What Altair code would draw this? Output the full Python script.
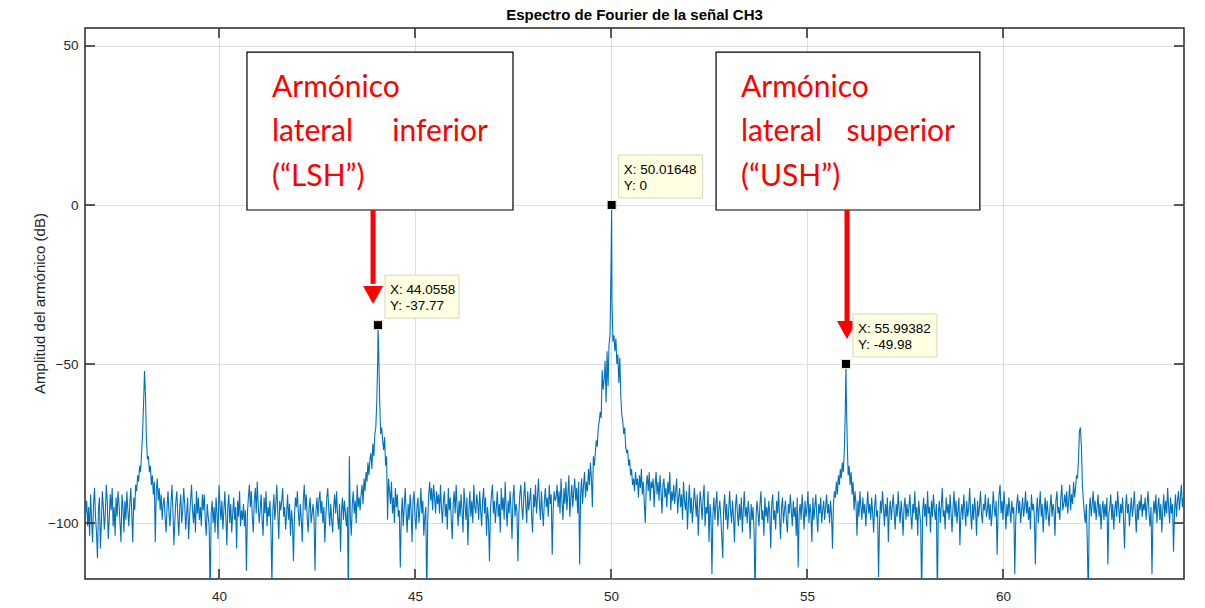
import altair as alt
import pandas as pd

# Frequency axis of the spectrum: uniform FFT bins, one row per 1 Hz
FREQ_START = 36.60
ROW_SPAN = 1.0
FREQ_STEP = 0.025

# Amplitude (dB) per bin, 40 bins per row
spectrum_rows = [
    [-97, -93, -101, -95, -104, -91, -99, -106, -94, -89, -98, -103, -111, -96, -92, -108, -100, -90, -95, -102,
     -97, -88, -93, -105, -99, -91, -96, -89, -101, -95, -104, -92, -98, -90, -94, -100, -106, -91, -95, -103],
    [-93, -99, -90, -96, -101, -94, -89, -97, -106, -92, -96, -88, -90, -85, -87, -82, -84, -78, -72, -63,
     -52.2, -60, -74, -80, -79, -84, -82, -88, -85, -91, -87, -106, -90, -86, -93, -89, -96, -91, -99, -94],
    [-92, -98, -103, -95, -90, -97, -101, -94, -88, -96, -107, -99, -93, -90, -98, -104, -95, -91, -100, -96,
     -89, -94, -102, -97, -92, -105, -98, -93, -88, -96, -100, -94, -103, -90, -97, -92, -99, -95, -101, -91],
    [-96, -91, -99, -104, -94, -98, -101, -124, -97, -93, -100, -95, -103, -92, -97, -105, -88, -94, -99, -93,
     -102, -96, -90, -98, -107, -95, -91, -100, -94, -103, -97, -92, -99, -95, -108, -93, -98, -90, -101, -96],
    [-99, -94, -101, -96, -115, -97, -92, -88, -95, -90, -98, -103, -93, -89, -97, -87, -94, -100, -96, -91,
     -99, -104, -92, -97, -90, -101, -95, -98, -93, -102, -119, -96, -91, -99, -94, -88, -97, -105, -93, -96],
    [-93, -89, -98, -95, -102, -97, -91, -99, -94, -104, -96, -100, -112, -98, -92, -95, -90, -97, -101, -94,
     -99, -106, -93, -88, -96, -91, -98, -103, -95, -92, -100, -97, -94, -99, -115, -96, -92, -98, -93, -90],
    [-97, -93, -100, -95, -106, -98, -92, -89, -96, -101, -94, -99, -103, -95, -91, -97, -90, -98, -102, -94,
     -109, -96, -92, -99, -93, -97, -101, -95, -124, -79, -98, -104, -94, -90, -97, -93, -100, -88, -95, -92],
    [-96, -91, -88, -94, -86, -90, -84, -87, -81, -85, -80, -78, -83, -75, -79, -72, -70, -62, -48, -47,
     -62, -72, -70, -74, -77, -73, -82, -79, -99, -86, -90, -94, -87, -97, -92, -100, -89, -95, -91, -98],
    [-96, -114, -98, -92, -101, -95, -89, -97, -103, -94, -99, -91, -96, -106, -93, -90, -98, -102, -95, -92,
     -100, -96, -89, -97, -93, -104, -98, -95, -124, -99, -91, -87, -93, -89, -96, -88, -92, -97, -90, -94],
    [-91, -97, -88, -95, -100, -93, -90, -98, -94, -102, -89, -96, -92, -99, -105, -94, -90, -97, -88, -95,
     -101, -93, -98, -91, -96, -103, -89, -94, -99, -92, -107, -96, -90, -98, -93, -100, -88, -95, -97, -91],
    [-94, -99, -90, -96, -101, -93, -89, -97, -92, -104, -95, -99, -112, -96, -91, -88, -97, -93, -100, -95,
     -90, -98, -94, -103, -89, -96, -92, -99, -87, -95, -101, -93, -97, -90, -96, -105, -92, -88, -98, -94],
    [-96, -112, -97, -91, -88, -95, -99, -92, -87, -94, -100, -90, -96, -93, -89, -98, -103, -91, -95, -88,
     -97, -92, -86, -94, -99, -90, -96, -101, -93, -89, -95, -92, -98, -88, -94, -91, -110, -96, -90, -93],
    [-92, -88, -95, -90, -97, -86, -93, -99, -89, -94, -87, -96, -91, -85, -98, -92, -88, -95, -90, -86,
     -93, -89, -97, -87, -113, -91, -86, -94, -88, -84, -92, -87, -90, -83, -88, -81, -86, -95, -79, -82],
    [-78, -74, -76, -70, -68, -65, -67, -52, -58, -55, -49, -62, -46, -57, -44, -41, -20, -30, -43, -41,
     -46, -42, -50, -47, -56, -48, -60, -66, -68, -72, -70, -76, -78, -77, -82, -80, -85, -83, -88, -86],
    [-90, -84, -88, -86, -92, -85, -89, -83, -91, -87, -94, -100, -88, -85, -90, -84, -93, -87, -89, -86,
     -95, -88, -84, -91, -87, -93, -85, -90, -97, -88, -86, -92, -89, -95, -87, -91, -84, -96, -90, -93],
    [-88, -94, -90, -86, -97, -92, -89, -95, -91, -99, -87, -93, -96, -90, -102, -94, -88, -97, -92, -100,
     -95, -89, -93, -98, -91, -104, -96, -90, -94, -99, -92, -88, -101, -95, -97, -90, -106, -94, -98, -116],
    [-97, -92, -99, -94, -90, -101, -96, -93, -98, -104, -111, -95, -91, -99, -94, -102, -97, -90, -96, -100,
     -93, -98, -106, -95, -91, -97, -101, -94, -99, -92, -103, -96, -90, -98, -95, -100, -93, -97, -105, -94],
    [-99, -95, -103, -124, -98, -93, -97, -101, -94, -90, -99, -96, -104, -92, -98, -95, -100, -93, -97, -108,
     -94, -91, -99, -96, -102, -93, -97, -90, -98, -105, -95, -92, -100, -96, -93, -99, -103, -94, -97, -91],
    [-96, -101, -93, -98, -95, -104, -92, -114, -97, -94, -99, -91, -96, -102, -93, -98, -95, -90, -100, -94,
     -97, -106, -92, -99, -95, -91, -98, -103, -94, -97, -92, -100, -96, -93, -99, -95, -91, -97, -94, -100],
    [-93, -97, -108, -94, -90, -92, -87, -91, -85, -88, -83, -86, -81, -84, -78, -66, -58, -74, -85, -82,
     -88, -84, -91, -87, -96, -90, -94, -104, -93, -98, -90, -95, -99, -92, -97, -94, -101, -95, -90, -97],
    [-94, -99, -92, -97, -103, -95, -91, -98, -96, -117, -100, -93, -97, -90, -95, -101, -94, -98, -92, -106,
     -96, -93, -99, -95, -91, -97, -102, -94, -98, -90, -96, -100, -93, -97, -104, -95, -92, -99, -94, -98],
    [-95, -91, -98, -102, -94, -97, -90, -99, -95, -104, -93, -97, -100, -124, -96, -92, -98, -94, -101, -90,
     -97, -95, -103, -93, -98, -91, -96, -99, -94, -124, -97, -93, -100, -95, -89, -98, -96, -102, -92, -97],
    [-94, -99, -91, -97, -103, -95, -90, -98, -93, -100, -96, -92, -107, -97, -94, -99, -91, -96, -101, -93,
     -98, -95, -89, -97, -102, -94, -99, -92, -96, -104, -93, -98, -95, -90, -97, -100, -94, -96, -91, -98],
    [-96, -92, -99, -94, -101, -97, -90, -95, -98, -93, -110, -96, -91, -88, -97, -93, -99, -90, -95, -102,
     -94, -98, -92, -96, -100, -93, -97, -95, -116, -99, -94, -91, -97, -93, -100, -96, -92, -98, -95, -90],
    [-97, -93, -99, -95, -102, -91, -96, -94, -98, -113, -97, -92, -100, -95, -90, -98, -94, -103, -96, -92,
     -99, -93, -97, -101, -95, -91, -98, -94, -96, -104, -93, -90, -97, -95, -99, -92, -88, -96, -94, -91],
    [-95, -90, -97, -93, -88, -96, -91, -94, -87, -92, -89, -85, -86, -80, -71, -70, -76, -88, -93, -97,
     -100, -94, -106, -124, -96, -92, -98, -94, -90, -97, -93, -99, -95, -91, -98, -94, -102, -96, -93, -99],
    [-94, -98, -92, -113, -97, -95, -91, -99, -94, -102, -96, -93, -98, -90, -95, -100, -94, -97, -92, -99,
     -108, -95, -91, -97, -94, -101, -96, -92, -98, -95, -90, -97, -103, -94, -99, -93, -96, -91, -98, -94],
    [-96, -92, -99, -94, -90, -97, -101, -95, -116, -98, -93, -97, -91, -100, -95, -92, -99, -94, -103, -96,
     -91, -98, -93, -97, -89, -95, -100, -92, -97, -94, -109, -96, -91, -98, -93, -90, -96, -92, -88, -95],
]
spectrum_tail = [-92]

# Marked harmonics (data tips)
peak_freq = [44.0558, 50.01648, 55.99382]
peak_db = [-37.77, 0, -49.98]

x_ticks = [40, 45, 50, 55, 60]
y_ticks = [-100, -50, 0, 50]
X_DOMAIN = [36.582, 64.617]
Y_DOMAIN = [-117.6, 55.66]

TITLE = "Espectro de Fourier de la señal CH3"
Y_TITLE = "Amplitud del armónico (dB)"

W, H = 1099, 551
AXIS_COLOR = "#262626"
FONT = "Liberation Sans"

# ---- assemble the spectrum table ----
freqs, amps = [], []
for k, row in enumerate(spectrum_rows):
    row_start = FREQ_START + k * ROW_SPAN
    for i, v in enumerate(row):
        freqs.append(round(row_start + i * FREQ_STEP, 4))
        amps.append(v)
last_start = FREQ_START + len(spectrum_rows) * ROW_SPAN
for i, v in enumerate(spectrum_tail):
    freqs.append(round(last_start + i * FREQ_STEP, 4))
    amps.append(v)

spec = pd.DataFrame({"f": freqs + peak_freq, "db": amps + peak_db}).sort_values("f")

x_scale = alt.Scale(domain=X_DOMAIN, nice=False, zero=False)
y_scale = alt.Scale(domain=Y_DOMAIN, nice=False, zero=False)

axis_common = dict(grid=True, gridColor="#DFDFDF", gridWidth=1, domain=False, ticks=False,
                   labelFontSize=13.5, labelColor=AXIS_COLOR, labelFont=FONT, title=None)
x_axis = alt.Axis(values=x_ticks, labelPadding=10, **axis_common)
y_axis = alt.Axis(values=y_ticks, labelPadding=7, **axis_common)


def X(field):
    return alt.X(field, type="quantitative", scale=x_scale, axis=x_axis)


def Y(field):
    return alt.Y(field, type="quantitative", scale=y_scale, axis=y_axis)


line = alt.Chart(spec).mark_line(color="#0072BD", strokeWidth=1.1, clip=True).encode(
    x=X("f"), y=Y("db"))

# inward tick marks on all four sides of the box
xt = pd.DataFrame({"f": x_ticks})
yt = pd.DataFrame({"db": y_ticks})
tick_style = dict(color=AXIS_COLOR, strokeWidth=1.5)
ticks_bottom = alt.Chart(xt).mark_rule(**tick_style).encode(
    x=X("f"), y=alt.value(H - 10), y2=alt.value(H))
ticks_top = alt.Chart(xt).mark_rule(**tick_style).encode(
    x=X("f"), y=alt.value(0), y2=alt.value(10))
ticks_left = alt.Chart(yt).mark_rule(**tick_style).encode(
    y=Y("db"), x=alt.value(0), x2=alt.value(10))
ticks_right = alt.Chart(yt).mark_rule(**tick_style).encode(
    y=Y("db"), x=alt.value(W - 10), x2=alt.value(W))

# ---- callout boxes with red captions ----
boxes = pd.DataFrame({
    "x1": [40.714, 52.68], "x2": [47.50, 59.41],
    "y1": [48.1, 48.1], "y2": [-1.57, -1.57],
})
callouts = alt.Chart(boxes).mark_rect(fill="white", stroke="black", strokeWidth=1.2).encode(
    x=X("x1"), x2="x2:Q", y=Y("y1"), y2="y2:Q")

cap_left = pd.DataFrame({
    "x": [41.352, 41.352, 41.352, 53.316, 53.316, 53.316],
    "y": [33.96, 20.13, 5.97, 33.96, 20.13, 5.97],
    "t": ["Armónico", "lateral", "(“LSH”)", "Armónico", "lateral", "(“USH”)"],
})
cap_right = pd.DataFrame({
    "x": [46.862, 58.776],
    "y": [20.13, 20.13],
    "t": ["inferior", "superior"],
})
cap_style = dict(font="Lato", fontSize=30, color="#FF0000", baseline="alphabetic")
captions_l = alt.Chart(cap_left).mark_text(align="left", **cap_style).encode(
    x=X("x"), y=Y("y"), text="t:N")
captions_r = alt.Chart(cap_right).mark_text(align="right", **cap_style).encode(
    x=X("x"), y=Y("y"), text="t:N")

# red arrows from the boxes down to the side-band peaks
shafts = pd.DataFrame({"x": [43.93, 56.02], "y1": [-1.57, -1.57], "y2": [-24.8, -36.8]})
arrow_shafts = alt.Chart(shafts).mark_rule(color="#FF0000", strokeWidth=5).encode(
    x=X("x"), y=Y("y1"), y2="y2:Q")
heads = pd.DataFrame({"x": [43.93, 56.02], "y": [-28.0, -39.0]})
arrow_heads = alt.Chart(heads).mark_point(
    shape="M-1,-0.8L1,-0.8L0,1Z", size=400, filled=True, color="#FF0000", opacity=1
).encode(x=X("x"), y=Y("y"))

# ---- data tips ----
def fmt(v):
    return "%.10g" % v


tips = pd.DataFrame({
    "f": peak_freq, "db": peak_db,
    "lx": ["X: " + fmt(v) for v in peak_freq],
    "ly": ["Y: " + fmt(v) for v in peak_db],
})
tip_widths = [74, 84, 84]

tip_layers = []
for i, w in enumerate(tip_widths):
    row = tips.iloc[[i]]
    tip_layers.append(
        alt.Chart(row).mark_rect(
            fill="#FFFFE1", stroke="#D6D6C2", strokeWidth=1,
            xOffset=7, x2Offset=7 + w, yOffset=-50, y2Offset=-7,
        ).encode(x=X("f"), x2="f:Q", y=Y("db"), y2="db:Q")
    )

tip_text_style = dict(font=FONT, fontSize=13.5, color="black", align="left", baseline="alphabetic", dx=12)
tip_text_x = alt.Chart(tips).mark_text(dy=-31, **tip_text_style).encode(x=X("f"), y=Y("db"), text="lx:N")
tip_text_y = alt.Chart(tips).mark_text(dy=-15, **tip_text_style).encode(x=X("f"), y=Y("db"), text="ly:N")
tip_marks = alt.Chart(tips).mark_square(
    size=81, color="black", stroke="#EEEEC6", strokeWidth=1, opacity=1
).encode(x=X("f"), y=Y("db"))

# ---- titles ----
title = alt.Chart(pd.DataFrame({"t": [TITLE]})).mark_text(
    font=FONT, fontSize=15, fontWeight="bold", color="black", align="center", baseline="alphabetic"
).encode(text="t:N", x=alt.value(W / 2), y=alt.value(-8))

ytitle = alt.Chart(pd.DataFrame({"t": [Y_TITLE]})).mark_text(
    font=FONT, fontSize=15, color=AXIS_COLOR, align="center", baseline="middle", angle=270
).encode(text="t:N", x=alt.value(-45), y=alt.value(H / 2))

chart = alt.layer(
    line, ticks_bottom, ticks_top, ticks_left, ticks_right,
    callouts, captions_l, captions_r, arrow_shafts, arrow_heads,
    *tip_layers, tip_text_x, tip_text_y, tip_marks,
    title, ytitle,
).properties(
    width=W, height=H,
    autosize=alt.AutoSizeParams(type="none"),
    padding={"left": 85, "top": 28, "right": 21, "bottom": 29},
    background="white",
).configure_view(stroke=AXIS_COLOR, strokeWidth=1.5)

chart.save("out.html", embed_options={"renderer": "svg", "actions": False})
